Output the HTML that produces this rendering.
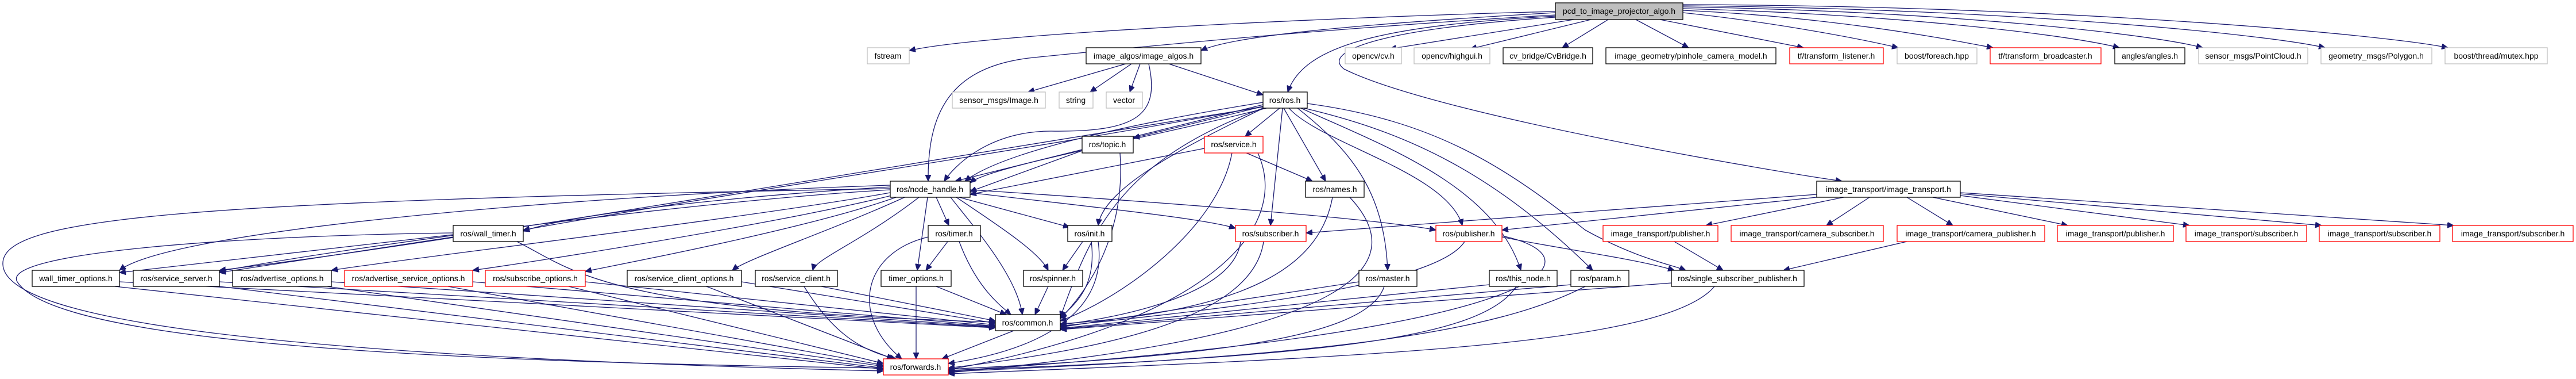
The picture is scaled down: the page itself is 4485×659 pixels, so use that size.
<!DOCTYPE html>
<html><head><meta charset="utf-8"><style>
html,body{margin:0;padding:0;background:#fff;}
svg{display:block;}
text{font-family:"Liberation Sans",Helvetica,Arial,sans-serif;font-size:14px;fill:#000;text-anchor:middle;}
.e{fill:none;stroke:#191970;stroke-width:1.3;marker-end:url(#a);}
.b{fill:#fff;stroke:#000;stroke-width:1.3;}
.g{fill:#fff;stroke:#bfbfbf;stroke-width:1.3;}
.r{fill:#fff;stroke:#ff0000;stroke-width:1.3;}
</style></head><body>
<svg width="4485" height="659" viewBox="0 0 4485 659" xmlns="http://www.w3.org/2000/svg">
<defs><marker id="a" markerUnits="userSpaceOnUse" markerWidth="12" markerHeight="10" refX="11" refY="5" orient="auto"><path d="M0,0 L11,5 L0,10 z" fill="#191970" stroke="#191970"/></marker></defs>
<g>
<!-- pcd edges -->
<path class="e" d="M2708,20 C2300,30 1700,60 1583,88"/>
<path class="e" d="M2708,22 C2400,40 2150,60 2091,88"/>
<path class="e" d="M2740,34 L2420,85"/>
<path class="e" d="M2770,34 L2560,85"/>
<path class="e" d="M2800,34 L2720,83"/>
<path class="e" d="M2848,34 L2940,83"/>
<path class="e" d="M2890,34 L3140,83"/>
<path class="e" d="M2930,22 C3100,40 3250,70 3305,83"/>
<path class="e" d="M2930,18 C3200,30 3400,70 3470,83"/>
<path class="e" d="M2930,15 C3300,25 3600,60 3690,83"/>
<path class="e" d="M2930,12 C3400,20 3750,60 3835,83"/>
<path class="e" d="M2930,10 C3500,15 3950,60 4048,83"/>
<path class="e" d="M2930,8 C3600,10 4150,60 4262,83"/>
<path class="e" d="M2708,28 C2400,45 2270,80 2242,160"/>
<path class="e" d="M2708,26 C2300,50 2000,80 1800,100 C1650,115 1615,200 1616,315"/>
<path class="e" d="M2708,30 C2400,50 2300,90 2340,120 C2500,200 3100,300 3207,315"/>
<!-- image_algos -->
<path class="e" d="M1960,111 L1790,160"/>
<path class="e" d="M1970,111 L1898,160"/>
<path class="e" d="M1985,111 L1967,160"/>
<path class="e" d="M2035,111 L2199,165"/>
<path class="e" d="M2000,111 C2020,200 1980,230 1830,228 C1720,228 1660,290 1644,315"/>
<!-- ros.h -->
<path class="e" d="M2199,178 C2000,210 1750,260 1680,315"/>
<path class="e" d="M2199,182 L1663,315"/>
<path class="e" d="M2205,188 C2000,240 1720,290 1689,318"/>
<path class="e" d="M2199,185 L1973,240"/>
<path class="e" d="M2228,188 L2168,237"/>
<path class="e" d="M2235,188 L2308,315"/>
<path class="e" d="M2233,188 L2212,392"/>
<path class="e" d="M2244,188 C2300,250 2520,300 2546,392"/>
<path class="e" d="M2200,188 C2050,260 1920,330 1912,392"/>
<path class="e" d="M2259,188 C2350,260 2410,330 2416,470"/>
<path class="e" d="M2265,188 C2400,250 2600,320 2648,470"/>
<path class="e" d="M2270,188 C2450,230 2600,300 2773,470"/>
<path class="e" d="M2276,180 C2500,210 2620,290 2760,400 C2850,450 2910,460 2935,470"/>
<path class="e" d="M2199,188 C1950,280 1900,400 1846,552"/>
<path class="e" d="M2199,185 C1800,260 1300,330 911,400"/>
<path class="e" d="M2199,186 C1600,280 800,420 382,470"/>
<!-- node_handle -->
<path class="e" d="M1550,325 C1300,340 1000,370 911,402"/>
<path class="e" d="M1550,322 C1000,340 300,400 208,470"/>
<path class="e" d="M1550,330 C1200,350 600,430 382,472"/>
<path class="e" d="M1550,335 C1300,380 700,450 577,470"/>
<path class="e" d="M1552,340 C1350,390 900,460 823,470"/>
<path class="e" d="M1560,343 C1400,400 1050,465 1019,472"/>
<path class="e" d="M1575,343 C1450,400 1300,450 1275,470"/>
<path class="e" d="M1600,343 C1500,420 1420,450 1415,470"/>
<path class="e" d="M1630,343 L1652,392"/>
<path class="e" d="M1615,343 L1597,470"/>
<path class="e" d="M1655,343 C1700,400 1770,480 1780,547"/>
<path class="e" d="M1665,343 C1750,400 1810,440 1825,470"/>
<path class="e" d="M1670,343 L1862,395"/>
<path class="e" d="M1689,335 C1900,360 2100,380 2151,397"/>
<path class="e" d="M1689,330 C2000,350 2400,380 2500,400"/>
<path class="e" d="M1550,328 C300,350 0,380 5,460 C10,560 500,620 1538,645"/>
<!-- wall_timer -->
<path class="e" d="M789,405 C400,410 0,440 30,490 C100,600 800,630 1538,640"/>
<path class="e" d="M789,408 L208,474"/>
<path class="e" d="M789,412 L382,474"/>
<path class="e" d="M900,420 C1000,470 1050,540 1733,560"/>
<!-- topic / service / names -->
<path class="e" d="M1950,266 C1960,400 1900,500 1846,554"/>
<path class="e" d="M1884,262 L1689,333"/>
<path class="e" d="M2097,258 L1689,338"/>
<path class="e" d="M2170,266 L2285,315"/>
<path class="e" d="M2145,266 C2120,400 1950,520 1846,558"/>
<path class="e" d="M2190,266 C2250,400 2100,560 1651,643"/>
<path class="e" d="M2320,343 C2300,450 2200,540 1846,563"/>
<path class="e" d="M2350,343 C2450,450 2400,580 1651,648"/>
<!-- timer / init / spinner -->
<path class="e" d="M1650,420 L1612,470"/>
<path class="e" d="M1670,420 C1700,500 1740,530 1760,547"/>
<path class="e" d="M1616,412 C1500,440 1480,550 1570,624"/>
<path class="e" d="M1885,420 L1850,470"/>
<path class="e" d="M1900,420 C1910,500 1870,530 1846,552"/>
<path class="e" d="M1912,420 C1930,550 1800,610 1651,632"/>
<path class="e" d="M1825,498 L1802,547"/>
<path class="e" d="M1630,498 L1752,547"/>
<path class="e" d="M1595,498 L1595,624"/>
<!-- row 4 left -->
<path class="e" d="M1430,498 L1733,558"/>
<path class="e" d="M1400,498 C1450,580 1500,610 1560,624"/>
<path class="e" d="M1291,490 L1733,562"/>
<path class="e" d="M1230,498 L1555,624"/>
<path class="e" d="M1019,490 L1733,565"/>
<path class="e" d="M990,498 L1538,632"/>
<path class="e" d="M823,490 L1733,567"/>
<path class="e" d="M780,498 L1538,635"/>
<path class="e" d="M577,490 L1733,568"/>
<path class="e" d="M570,498 L1538,637"/>
<path class="e" d="M382,490 L1733,569"/>
<path class="e" d="M382,498 L1538,640"/>
<path class="e" d="M208,490 L1733,570"/>
<path class="e" d="M200,498 L1538,642"/>
<!-- subscriber / publisher -->
<path class="e" d="M2160,420 C2150,500 2000,545 1846,565"/>
<path class="e" d="M2200,420 C2180,560 1900,610 1651,640"/>
<path class="e" d="M2550,420 C2500,500 2100,540 1846,567"/>
<path class="e" d="M2615,410 C2800,450 2700,580 1651,645"/>
<path class="e" d="M2615,412 C2700,430 2850,450 2915,470"/>
<path class="e" d="M2915,420 L3000,470"/>
<path class="e" d="M3320,420 L3105,470"/>
<!-- master etc -->
<path class="e" d="M2366,490 L1846,569"/>
<path class="e" d="M2410,498 C2380,590 2100,620 1651,642"/>
<path class="e" d="M2593,495 L1846,571"/>
<path class="e" d="M2640,498 C2580,590 2300,620 1651,644"/>
<path class="e" d="M2735,495 L1846,572"/>
<path class="e" d="M2760,498 C2600,580 2300,620 1651,646"/>
<path class="e" d="M2910,492 L1846,573"/>
<path class="e" d="M2985,498 C2900,600 2400,620 1651,650"/>
<path class="e" d="M1765,575 L1640,624"/>
<!-- image_transport -->
<path class="e" d="M3163,338 L2274,405"/>
<path class="e" d="M3163,343 L2615,400"/>
<path class="e" d="M3210,343 L2970,392"/>
<path class="e" d="M3255,343 L3180,392"/>
<path class="e" d="M3320,343 L3400,392"/>
<path class="e" d="M3365,343 L3600,392"/>
<path class="e" d="M3413,340 L3812,392"/>
<path class="e" d="M3413,337 L4042,392"/>
<path class="e" d="M3413,335 L4272,392"/>
</g>
<g>
<rect x="2708" y="5" width="222" height="29" fill="#bfbfbf" stroke="#000" stroke-width="1.3"/><text x="2819" y="24">pcd_to_image_projector_algo.h</text>
<rect class="g" x="1510" y="83" width="73" height="28"/><text x="1546" y="102">fstream</text>
<rect class="b" x="1891" y="83" width="200" height="28"/><text x="1991" y="102">image_algos/image_algos.h</text>
<rect class="g" x="2342" y="83" width="98" height="28"/><text x="2391" y="102">opencv/cv.h</text>
<rect class="g" x="2462" y="83" width="132" height="28"/><text x="2528" y="102">opencv/highgui.h</text>
<rect class="b" x="2617" y="83" width="156" height="28"/><text x="2695" y="102">cv_bridge/CvBridge.h</text>
<rect class="b" x="2796" y="83" width="296" height="28"/><text x="2944" y="102">image_geometry/pinhole_camera_model.h</text>
<rect class="r" x="3116" y="83" width="163" height="28"/><text x="3197" y="102">tf/transform_listener.h</text>
<rect class="g" x="3303" y="83" width="139" height="28"/><text x="3372" y="102">boost/foreach.hpp</text>
<rect class="r" x="3465" y="83" width="193" height="28"/><text x="3561" y="102">tf/transform_broadcaster.h</text>
<rect class="b" x="3682" y="83" width="122" height="28"/><text x="3743" y="102">angles/angles.h</text>
<rect class="g" x="3828" y="83" width="190" height="28"/><text x="3923" y="102">sensor_msgs/PointCloud.h</text>
<rect class="g" x="4041" y="83" width="193" height="28"/><text x="4137" y="102">geometry_msgs/Polygon.h</text>
<rect class="g" x="4257" y="83" width="178" height="28"/><text x="4346" y="102">boost/thread/mutex.hpp</text>
<rect class="g" x="1658" y="160" width="162" height="28"/><text x="1739" y="179">sensor_msgs/Image.h</text>
<rect class="g" x="1844" y="160" width="59" height="28"/><text x="1873" y="179">string</text>
<rect class="g" x="1926" y="160" width="63" height="28"/><text x="1957" y="179">vector</text>
<rect class="b" x="2199" y="160" width="77" height="28"/><text x="2237" y="179">ros/ros.h</text>
<rect class="b" x="1884" y="237" width="89" height="29"/><text x="1928" y="256">ros/topic.h</text>
<rect class="r" x="2097" y="237" width="102" height="29"/><text x="2148" y="256">ros/service.h</text>
<rect class="b" x="1550" y="315" width="139" height="28"/><text x="1619" y="334">ros/node_handle.h</text>
<rect class="b" x="2273" y="315" width="102" height="28"/><text x="2324" y="334">ros/names.h</text>
<rect class="b" x="3163" y="315" width="250" height="28"/><text x="3288" y="334">image_transport/image_transport.h</text>
<rect class="b" x="789" y="392" width="122" height="28"/><text x="850" y="411">ros/wall_timer.h</text>
<rect class="b" x="1616" y="392" width="91" height="28"/><text x="1661" y="411">ros/timer.h</text>
<rect class="b" x="1859" y="392" width="77" height="28"/><text x="1897" y="411">ros/init.h</text>
<rect class="r" x="2151" y="392" width="123" height="28"/><text x="2212" y="411">ros/subscriber.h</text>
<rect class="r" x="2500" y="392" width="115" height="28"/><text x="2557" y="411">ros/publisher.h</text>
<rect class="r" x="2791" y="392" width="200" height="28"/><text x="2891" y="411">image_transport/publisher.h</text>
<rect class="r" x="3014" y="392" width="265" height="28"/><text x="3146" y="411">image_transport/camera_subscriber.h</text>
<rect class="r" x="3303" y="392" width="257" height="28"/><text x="3431" y="411">image_transport/camera_publisher.h</text>
<rect class="r" x="3582" y="392" width="202" height="28"/><text x="3683" y="411">image_transport/publisher.h</text>
<rect class="r" x="3806" y="392" width="210" height="28"/><text x="3911" y="411">image_transport/subscriber.h</text>
<rect class="r" x="4038" y="392" width="210" height="28"/><text x="4143" y="411">image_transport/subscriber.h</text>
<rect class="r" x="4270" y="392" width="210" height="28"/><text x="4375" y="411">image_transport/subscriber.h</text>
<rect class="b" x="56" y="470" width="152" height="28"/><text x="132" y="489">wall_timer_options.h</text>
<rect class="b" x="232" y="470" width="150" height="28"/><text x="307" y="489">ros/service_server.h</text>
<rect class="b" x="405" y="470" width="172" height="28"/><text x="491" y="489">ros/advertise_options.h</text>
<rect class="r" x="600" y="470" width="223" height="28"/><text x="711" y="489">ros/advertise_service_options.h</text>
<rect class="r" x="845" y="470" width="174" height="28"/><text x="932" y="489">ros/subscribe_options.h</text>
<rect class="b" x="1092" y="470" width="199" height="28"/><text x="1191" y="489">ros/service_client_options.h</text>
<rect class="b" x="1315" y="470" width="143" height="28"/><text x="1386" y="489">ros/service_client.h</text>
<rect class="b" x="1534" y="470" width="122" height="28"/><text x="1595" y="489">timer_options.h</text>
<rect class="b" x="1782" y="470" width="103" height="28"/><text x="1833" y="489">ros/spinner.h</text>
<rect class="b" x="2366" y="470" width="101" height="28"/><text x="2416" y="489">ros/master.h</text>
<rect class="b" x="2593" y="470" width="118" height="28"/><text x="2652" y="489">ros/this_node.h</text>
<rect class="b" x="2735" y="470" width="101" height="28"/><text x="2785" y="489">ros/param.h</text>
<rect class="b" x="2910" y="470" width="231" height="28"/><text x="3025" y="489">ros/single_subscriber_publisher.h</text>
<rect class="b" x="1733" y="547" width="113" height="28"/><text x="1789" y="566">ros/common.h</text>
<rect class="r" x="1538" y="624" width="113" height="28"/><text x="1594" y="643">ros/forwards.h</text>
</g>
</svg>
</body></html>
